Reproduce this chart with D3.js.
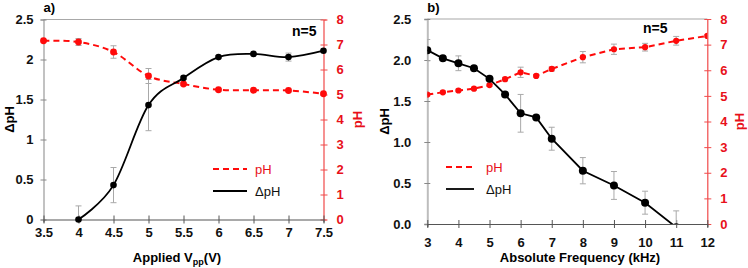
<!DOCTYPE html>
<html>
<head>
<meta charset="utf-8">
<script src="https://cdn.jsdelivr.net/npm/d3@7"></script>
<style>
  body { margin: 0; background: #fff; }
  svg { display: block; font-family: "Liberation Sans", Arial, sans-serif; }
  .tick text { font-weight: bold; font-size: 13px; }
</style>
</head>
<body>
<div id="chart"></div>
<script>
// panel a) applied voltage
const voltage = [3.5, 4, 4.5, 5, 5.5, 6, 6.5, 7, 7.5];
const phA = [7.15, 7.1, 6.7, 5.74, 5.42, 5.19, 5.17, 5.16, 5.03];
const phAErr = [0.05, 0.14, 0.25, 0.3, 0.06, 0.05, 0.05, 0.05, 0.05];
const dphVoltage = [4, 4.5, 5, 5.5, 6, 6.5, 7, 7.5];
const dphA = [0, 0.43, 1.43, 1.77, 2.03, 2.07, 2.03, 2.11];
const dphAErr = [0.17, 0.22, 0.32, 0.02, 0.02, 0.02, 0.05, 0.02];
const xTicksA = [3.5, 4, 4.5, 5, 5.5, 6, 6.5, 7, 7.5];

// panel b) absolute frequency
const freq = [3, 3.5, 4, 4.5, 5, 5.5, 6, 6.5, 7, 8, 9, 10, 11, 12];
const phB = [5.05, 5.14, 5.21, 5.28, 5.42, 5.65, 5.92, 5.78, 6.05, 6.51, 6.82, 6.9, 7.15, 7.34];
const phBErr = [0.05, 0.05, 0.05, 0.05, 0.05, 0.07, 0.2, 0.05, 0.08, 0.22, 0.2, 0.15, 0.17, 0.05];
const dphFreq = [3, 3.5, 4, 4.5, 5, 5.5, 6, 6.5, 7, 8, 9, 10, 11];
const dphB = [2.12, 2.02, 1.96, 1.9, 1.77, 1.58, 1.35, 1.3, 1.04, 0.65, 0.47, 0.26, -0.04];
const dphBErr = [0.13, 0.02, 0.09, 0.02, 0.02, 0.02, 0.23, 0.02, 0.14, 0.16, 0.17, 0.14, 0.2];
const xTicksB = [3, 4, 5, 6, 7, 8, 9, 10, 11, 12];

const dphTicks = [0, 0.5, 1, 1.5, 2, 2.5];
const phTicks = [0, 1, 2, 3, 4, 5, 6, 7, 8];

const RED = '#ff0a0a';
const RED_TEXT = '#e8101a';

const svg = d3.select('#chart').append('svg')
  .attr('width', 748)
  .attr('height', 268);

const panels = [
  {
    id: 'a', label: 'a)', left: 43.5, right: 323.5, top: 19.5, bottom: 219.5,
    xDomain: [3.5, 7.5], xTicks: xTicksA, xFormat: d3.format(''), leftFormat: d3.format(''),
    leftPad: 10, xPad: 8.5, curve: d3.curveCardinal.tension(0), phCurve: d3.curveCardinal.tension(0),
    phX: voltage, ph: phA, phErr: phAErr, dX: dphVoltage, d: dphA, dErr: dphAErr,
    r: 3.3, rPh: 3.4, leftAxisColor: '#9a9a9a', leftAxisWidth: 1.2,
    title: ['Applied V', 'pp', '(V)'], titleX: 177, titleY: 262,
    leftTitleX: 9, rightTitleX: 357, nX: 292, nY: 36,
    legendX: 213, legendY: 169, legendTextX: 255, legendLen: 34,
    clipMarkers: false
  },
  {
    id: 'b', label: 'b)', left: 427.3, right: 707.3, top: 19, bottom: 224,
    xDomain: [3, 12], xTicks: xTicksB, xFormat: d3.format(''), leftFormat: d3.format('.1f'),
    leftPad: 16, xPad: 14, curve: d3.curveLinear, phCurve: d3.curveLinear,
    phX: freq, ph: phB, phErr: phBErr, dX: dphFreq, d: dphB, dErr: dphBErr,
    r: 4, rPh: 3.1, leftAxisColor: '#bdbdbd', leftAxisWidth: 2,
    title: ['Absolute Frequency (kHz)'], titleX: 580, titleY: 262,
    leftTitleX: 384, rightTitleX: 739, nX: 643, nY: 33,
    legendX: 446, legendY: 167, legendTextX: 486, legendLen: 28,
    clipMarkers: true
  }
];

panels.forEach(drawPanel);

function drawPanel(p) {
  const x = d3.scaleLinear().domain(p.xDomain).range([p.left, p.right]);
  const yL = d3.scaleLinear().domain([0, 2.5]).range([p.bottom, p.top]);
  const yR = d3.scaleLinear().domain([0, 8]).range([p.bottom, p.top]);

  const g = svg.append('g');

  svg.append('clipPath').attr('id', 'clip-' + p.id)
    .append('rect')
    .attr('x', p.left).attr('y', p.top)
    .attr('width', p.right - p.left).attr('height', p.bottom - p.top);

  // top border
  g.append('line')
    .attr('x1', p.left).attr('x2', p.right)
    .attr('y1', p.top).attr('y2', p.top)
    .attr('stroke', '#a8a8a8').attr('stroke-width', 1.2);

  // left axis
  const left = g.append('g')
    .attr('transform', `translate(${p.left},0)`)
    .call(d3.axisLeft(yL).tickValues(dphTicks).tickFormat(p.leftFormat)
      .tickSize(3).tickPadding(p.leftPad - 3));
  left.select('.domain').attr('stroke', p.leftAxisColor).attr('stroke-width', p.leftAxisWidth);
  left.selectAll('.tick line').attr('x1', -3).attr('x2', 3).attr('stroke', '#888');
  left.selectAll('.tick text').attr('fill', '#111');

  // right axis
  const right = g.append('g')
    .attr('transform', `translate(${p.right},0)`)
    .call(d3.axisRight(yR).tickValues(phTicks).tickSize(3).tickPadding(10));
  right.select('.domain').attr('stroke', '#f04a4a').attr('stroke-width', 1.2);
  right.selectAll('.tick line').attr('x1', -3).attr('x2', 4).attr('stroke', '#f04a4a');
  right.selectAll('.tick text').attr('fill', RED_TEXT);

  // bottom axis
  const bottom = g.append('g')
    .attr('transform', `translate(0,${p.bottom})`)
    .call(d3.axisBottom(x).tickValues(p.xTicks).tickFormat(p.xFormat)
      .tickSize(3).tickPadding(p.xPad - 3));
  bottom.select('.domain').attr('stroke', '#555').attr('stroke-width', 1.2);
  bottom.selectAll('.tick line').attr('y1', -4).attr('y2', 4).attr('stroke', '#555');
  bottom.selectAll('.tick text').attr('fill', '#111');

  // error bars
  const errG = g.append('g')
    .attr('clip-path', `url(#clip-${p.id})`)
    .attr('stroke', '#a9a9a9').attr('stroke-width', 1).attr('fill', 'none');

  const drawErr = (xs, vs, es, scale) => {
    xs.forEach((xv, i) => {
      const cx = x(xv);
      const y1 = scale(vs[i] - es[i]);
      const y2 = scale(vs[i] + es[i]);
      errG.append('line').attr('x1', cx).attr('x2', cx).attr('y1', y1).attr('y2', y2);
      errG.append('line').attr('x1', cx - 3).attr('x2', cx + 3).attr('y1', y1).attr('y2', y1);
      errG.append('line').attr('x1', cx - 3).attr('x2', cx + 3).attr('y1', y2).attr('y2', y2);
    });
  };
  drawErr(p.phX, p.ph, p.phErr, yR);
  drawErr(p.dX, p.d, p.dErr, yL);

  const marks = g.append('g');
  if (p.clipMarkers) marks.attr('clip-path', `url(#clip-${p.id})`);

  // pH series (dashed red)
  const phLine = d3.line().x((d, i) => x(p.phX[i])).y((d) => yR(d)).curve(p.phCurve);
  marks.append('path')
    .attr('d', phLine(p.ph))
    .attr('fill', 'none').attr('stroke', RED)
    .attr('stroke-width', 2).attr('stroke-dasharray', '6,4');
  marks.selectAll('.ph-dot').data(p.ph).enter().append('circle')
    .attr('class', 'ph-dot')
    .attr('cx', (d, i) => x(p.phX[i])).attr('cy', (d) => yR(d))
    .attr('r', p.rPh).attr('fill', RED);

  // dpH series (solid black)
  const dLine = d3.line().x((d, i) => x(p.dX[i])).y((d) => yL(d)).curve(p.curve);
  marks.append('path')
    .attr('d', dLine(p.d))
    .attr('fill', 'none').attr('stroke', '#000').attr('stroke-width', 1.8);
  marks.selectAll('.d-dot').data(p.d).enter().append('circle')
    .attr('class', 'd-dot')
    .attr('cx', (d, i) => x(p.dX[i])).attr('cy', (d) => yL(d))
    .attr('r', p.r).attr('fill', '#000');

  // panel label
  svg.append('text').attr('x', p.left).attr('y', 12)
    .attr('font-size', 13).attr('font-weight', 'bold').text(p.label);

  // n=5
  svg.append('text').attr('x', p.nX).attr('y', p.nY)
    .attr('font-size', 14).attr('font-weight', 'bold').text('n=5');

  // axis titles
  const midY = (p.top + p.bottom) / 2;
  svg.append('text')
    .attr('transform', `translate(${p.leftTitleX},${midY}) rotate(-90)`)
    .attr('text-anchor', 'middle').attr('dy', '0.35em')
    .attr('font-size', 13).attr('font-weight', 'bold')
    .text('ΔpH');
  svg.append('text')
    .attr('transform', `translate(${p.rightTitleX},${midY}) rotate(-90)`)
    .attr('text-anchor', 'middle').attr('dy', '0.35em')
    .attr('font-size', 13).attr('font-weight', 'bold')
    .attr('fill', RED_TEXT).text('pH');

  const title = svg.append('text')
    .attr('x', p.titleX).attr('y', p.titleY)
    .attr('text-anchor', 'middle').attr('font-size', 13).attr('font-weight', 'bold');
  title.append('tspan').text(p.title[0]);
  if (p.title.length > 1) {
    title.append('tspan').attr('font-size', 9).attr('dy', 3).text(p.title[1]);
    title.append('tspan').attr('dy', -3).text(p.title[2]);
  }

  // legend
  const lg = svg.append('g');
  lg.append('line')
    .attr('x1', p.legendX).attr('x2', p.legendX + p.legendLen)
    .attr('y1', p.legendY).attr('y2', p.legendY)
    .attr('stroke', RED).attr('stroke-width', 2).attr('stroke-dasharray', '6,4');
  lg.append('text').attr('x', p.legendTextX).attr('y', p.legendY + 4.5)
    .attr('font-size', 13).attr('fill', RED_TEXT).text('pH');
  lg.append('line')
    .attr('x1', p.legendX).attr('x2', p.legendX + p.legendLen)
    .attr('y1', p.legendY + 22).attr('y2', p.legendY + 22)
    .attr('stroke', '#000').attr('stroke-width', 1.8);
  lg.append('text').attr('x', p.legendTextX).attr('y', p.legendY + 26.5)
    .attr('font-size', 13).attr('fill', '#111').text('ΔpH');
}
</script>
</body>
</html>
